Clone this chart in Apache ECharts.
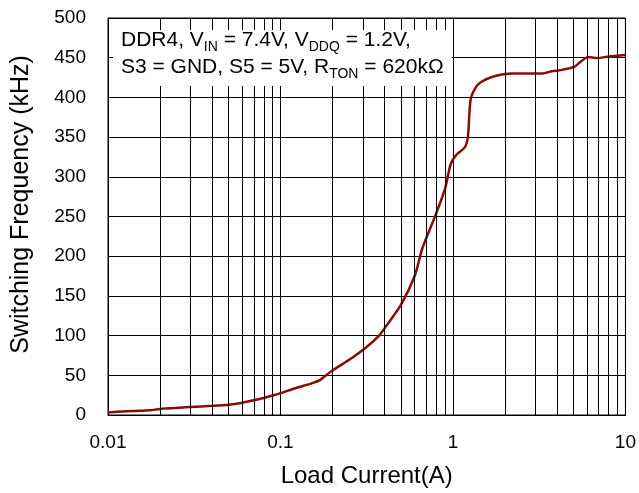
<!DOCTYPE html>
<html lang="en">
<head>
    <meta charset="UTF-8" />
    <title>Switching Frequency vs Load Current</title>
    <script src="https://cdn.jsdelivr.net/npm/echarts@6/dist/echarts.min.js"></script>
    <style>
        html, body { margin: 0; padding: 0; background: #fff; }
        #main { width: 639px; height: 493px; }
    </style>
</head>
<body>
<div id="main"></div>
<script>
    // load current (A)
    var current = [0.01, 0.0103, 0.014, 0.0175, 0.02, 0.03, 0.04, 0.05, 0.06, 0.07, 0.08, 0.09, 0.1,
                   0.123, 0.15, 0.168, 0.18, 0.2, 0.262, 0.313, 0.373, 0.41, 0.5, 0.6, 0.665, 0.8, 0.9,
                   0.97, 1.05, 1.17, 1.22, 1.265, 1.35, 1.45, 1.7, 2.2, 3.28, 3.75, 4.1, 5.0, 6.1, 6.8,
                   8.0, 10];
    // switching frequency (kHz)
    var freq = [3, 3.5, 5, 6, 7.5, 10, 11.5, 13, 15.5, 18.5, 21.5, 24.5, 27.5,
                34, 39.5, 43.5, 48.5, 56, 72.5, 85, 100, 112, 139, 175, 210, 254, 285,
                316, 328, 337, 350, 397, 412, 419, 426, 430, 430, 433, 434, 438, 451, 449.5,
                451.5, 453.5];
    // minor log grid lines between the decades
    var minorX = [0.02, 0.03, 0.04, 0.05, 0.06, 0.07, 0.08, 0.09,
                  0.2, 0.3, 0.4, 0.5, 0.6, 0.7, 0.8, 0.9,
                  2, 3, 4, 5, 6, 7, 8, 9];

    var points = current.map(function (c, i) { return [c, freq[i]]; });
    var font = 'Arial, "Liberation Sans", sans-serif';

    var myChart = echarts.init(document.getElementById('main'));
    var option = {
        animation: false,
        backgroundColor: '#fff',
        title: {
            left: 113,
            top: 27,
            padding: [0, 8, 5, 8],
            backgroundColor: '#fff',
            text: '{m|DDR4, V}{s|IN}{m| = 7.4V, V}{s|DDQ}{m| = 1.2V,}\n' +
                  '{m|S3 = GND, S5 = 5V, R}{s|TON}{m| = 620kΩ}',
            textStyle: {
                fontFamily: font,
                fontWeight: 'normal',
                rich: {
                    m: { fontSize: 21, color: '#000', lineHeight: 27, fontFamily: font, fontWeight: 'normal' },
                    s: { fontSize: 14, color: '#000', lineHeight: 20, verticalAlign: 'bottom', fontFamily: font, fontWeight: 'normal' }
                }
            }
        },
        grid: {
            left: 108,
            right: 12,
            top: 18,
            bottom: 75,
            show: true,
            borderColor: '#000',
            borderWidth: 1
        },
        xAxis: {
            type: 'log',
            logBase: 10,
            min: 0.01,
            max: 10,
            name: 'Load Current(A)',
            nameLocation: 'middle',
            nameGap: 49,
            nameTextStyle: { fontSize: 24, color: '#000', fontFamily: font },
            axisLine: { show: true, lineStyle: { color: '#000', width: 1 } },
            axisTick: { show: false },
            axisLabel: {
                fontSize: 19, color: '#000', fontFamily: font, margin: 18,
                formatter: function (v) { return String(+v.toPrecision(3)); }
            },
            splitLine: { show: true, lineStyle: { color: '#000', width: 1 } }
        },
        yAxis: {
            type: 'value',
            min: 0,
            max: 500,
            interval: 50,
            name: 'Switching Frequency (kHz)',
            nameLocation: 'middle',
            nameGap: 74,
            nameTextStyle: { fontSize: 25, color: '#000', fontFamily: font, padding: [0, 0, 0, 24] },
            axisLine: { show: true, lineStyle: { color: '#000', width: 1 } },
            axisTick: { show: false },
            axisLabel: { fontSize: 19, color: '#000', fontFamily: font, margin: 22 },
            splitLine: { show: true, lineStyle: { color: '#000', width: 1 } }
        },
        series: [
            {
                // carries the minor log grid only
                type: 'line',
                data: [],
                z: 1,
                silent: true,
                markLine: {
                    silent: true,
                    symbol: 'none',
                    label: { show: false },
                    lineStyle: { color: '#000', width: 1, type: 'solid' },
                    data: minorX.map(function (v) { return { xAxis: v }; })
                }
            },
            {
                name: 'Fsw',
                type: 'line',
                data: points,
                z: 3,
                smooth: 0.25,
                showSymbol: false,
                lineStyle: { color: '#8b0a0a', width: 2.5 }
            }
        ]
    };
    myChart.setOption(option);
</script>
</body>
</html>
